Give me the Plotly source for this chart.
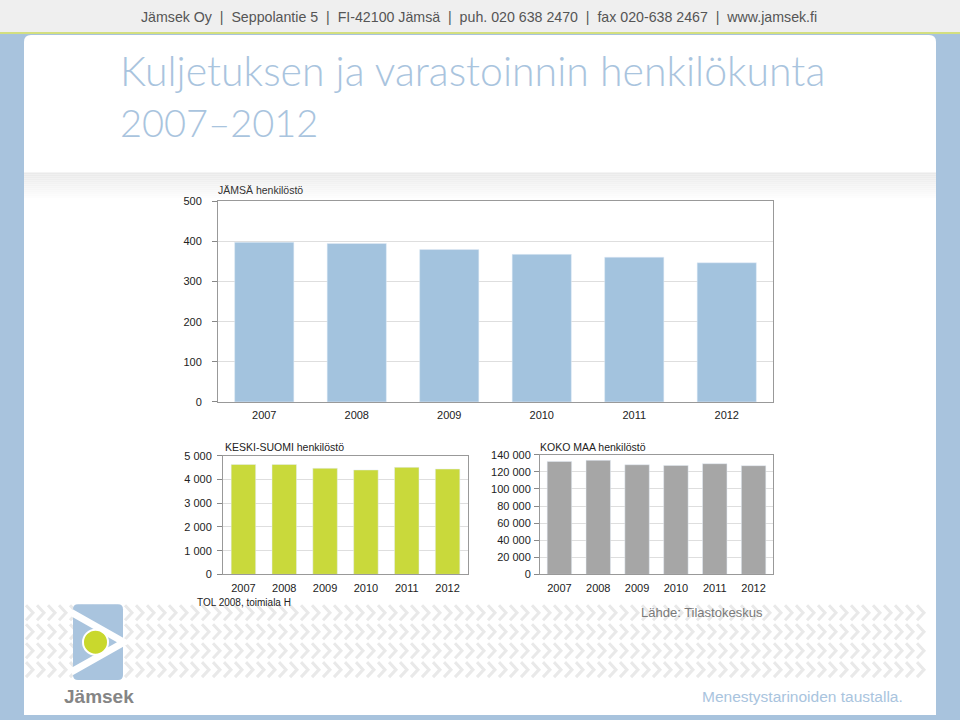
import plotly.graph_objects as go

# ---------------- data ----------------
years = ["2007", "2008", "2009", "2010", "2011", "2012"]
jamsa = [398, 395, 380, 368, 361, 347]
keski_suomi = [4630, 4630, 4470, 4400, 4510, 4440]
koko_maa = [132200, 133400, 128300, 127500, 129500, 127200]

jamsa_ticks = [0, 100, 200, 300, 400, 500]
jamsa_ticktext = ["0", "100", "200", "300", "400", "500"]
ks_ticks = [0, 1000, 2000, 3000, 4000, 5000]
ks_ticktext = ["0", "1 000", "2 000", "3 000", "4 000", "5 000"]
km_ticks = [0, 20000, 40000, 60000, 80000, 100000, 120000, 140000]
km_ticktext = ["0", "20 000", "40 000", "60 000", "80 000", "100 000", "120 000", "140 000"]

title_lines = ["Kuljetuksen ja varastoinnin henkilökunta", "2007\u20132012"]
header_text = ("Jämsek Oy  |  Seppolantie 5  |  FI-42100 Jämsä  |  puh. 020 638 2470  |  "
               "fax 020-638 2467  |  www.jamsek.fi")

W, H = 960, 720
# the plotting area is rendered 5 px inset at top and bottom; compensate
def X(px):
    return px / W
def Y(py):
    return 1 - (py - 5) / 710

FONT = "Liberation Sans, Arial, sans-serif"
BLUE_FRAME = "#a8c3dd"

fig = go.Figure()
fig.add_trace(go.Bar(x=years, y=jamsa, marker_color="#a3c3de", width=0.64,
                     xaxis="x", yaxis="y", hoverinfo="x+y"))
fig.add_trace(go.Bar(x=years, y=keski_suomi, marker_color="#c9d93b", width=0.6,
                     xaxis="x2", yaxis="y2", hoverinfo="x+y"))
fig.add_trace(go.Bar(x=years, y=koko_maa, marker_color="#a6a6a6", width=0.63,
                     xaxis="x3", yaxis="y3", hoverinfo="x+y"))

tickfont = dict(family=FONT, size=11, color="#222222")

def xax(domain, anchor):
    return dict(domain=domain, anchor=anchor, type="category", showline=True,
                linecolor="#999999", linewidth=1, mirror=True, ticks="",
                showgrid=False, tickfont=tickfont, fixedrange=True,
                ticklabelstandoff=3)

def yax(domain, anchor, rng, tv, tt, standoff):
    return dict(domain=domain, anchor=anchor, range=rng, tickvals=tv, ticktext=tt,
                showline=True, linecolor="#999999", linewidth=1, mirror=True,
                ticks="outside", ticklen=5, tickcolor="#888888",
                showgrid=True, gridcolor="#dedede", gridwidth=1, zeroline=False,
                tickfont=tickfont, fixedrange=True, ticklabelstandoff=standoff)

shapes = []
# header band (extends above the paper)
shapes.append(dict(type="rect", xref="paper", yref="paper", x0=-0.02, x1=1.02, y0=Y(31), y1=Y(-20),
                   fillcolor="#efefef", line_width=0, layer="below"))
shapes.append(dict(type="rect", xref="paper", yref="paper", x0=-0.02, x1=1.02, y0=Y(33), y1=Y(31),
                   fillcolor="#d3df80", line_width=0, layer="below"))
# white panel with rounded top corners
r = 7
x0, x1, y0, y1 = 24, 936, 34, 716
path = (f"M {X(x0)},{Y(y1)} L {X(x0)},{Y(y0 + r)} Q {X(x0)},{Y(y0)} {X(x0 + r)},{Y(y0)} "
        f"L {X(x1 - r)},{Y(y0)} Q {X(x1)},{Y(y0)} {X(x1)},{Y(y0 + r)} L {X(x1)},{Y(y1)} Z")
shapes.append(dict(type="path", xref="paper", yref="paper", path=path,
                   fillcolor="white", line_width=0, layer="below"))
# gray gradient band
nsteps = 14
for i in range(nsteps):
    t = i / (nsteps - 1)
    c = int(234 + (255 - 234) * t)
    shapes.append(dict(type="rect", xref="paper", yref="paper", x0=X(24), x1=X(936),
                       y0=Y(172 + 2 * (i + 1)), y1=Y(172 + 2 * i),
                       fillcolor=f"rgb({c},{c},{c})", line_width=0, layer="below"))
# chevron pattern
segs = []
for row in range(4):
    yt = 606 + row * 19
    ym = yt + 7.5
    yb = yt + 15
    xx = 26
    while xx + 7 <= 934:
        segs.append(f"M {X(xx)},{Y(yt)} L {X(xx + 7)},{Y(ym)} L {X(xx)},{Y(yb)}")
        xx += 11
shapes.append(dict(type="path", xref="paper", yref="paper", path=" ".join(segs),
                   line=dict(color="#e9e9e9", width=3), layer="below"))
# logo
lx0, lx1, ly0, ly1, lr = 73, 123, 605, 681, 5
lpath = (f"M {X(lx0 + lr)},{Y(ly0)} L {X(lx1 - lr)},{Y(ly0)} Q {X(lx1)},{Y(ly0)} {X(lx1)},{Y(ly0 + lr)} "
         f"L {X(lx1)},{Y(ly1 - lr)} Q {X(lx1)},{Y(ly1)} {X(lx1 - lr)},{Y(ly1)} "
         f"L {X(lx0 + lr)},{Y(ly1)} Q {X(lx0)},{Y(ly1)} {X(lx0)},{Y(ly1 - lr)} "
         f"L {X(lx0)},{Y(ly0 + lr)} Q {X(lx0)},{Y(ly0)} {X(lx0 + lr)},{Y(ly0)} Z")
shapes.append(dict(type="path", xref="paper", yref="paper", path=lpath,
                   fillcolor="#a9c4de", line_width=0, layer="above"))
shapes.append(dict(type="path", xref="paper", yref="paper",
                   path=f"M {X(71)},{Y(613)} L {X(124)},{Y(643)} L {X(71)},{Y(673)}",
                   line=dict(color="white", width=7), layer="above"))
shapes.append(dict(type="circle", xref="paper", yref="paper",
                   x0=X(83), x1=X(108), y0=Y(655.5), y1=Y(630.5),
                   fillcolor="#c9d82d", line=dict(color="white", width=2), layer="above"))

annotations = []
def ann(text, px, py, size, color, xanchor="left", yanchor="middle", family=FONT, weight=None):
    f = dict(family=family, size=size, color=color)
    if weight is not None:
        f["weight"] = weight
    annotations.append(dict(text=text, x=X(px), y=Y(py), xref="paper", yref="paper",
                            xanchor=xanchor, yanchor=yanchor, showarrow=False, font=f))

TITLE_FONT = "Lato, Liberation Sans, Arial, sans-serif"
ann(header_text, 479, 16, 14.2, "#555555", xanchor="center")
ann(title_lines[0], 118, 70, 41, "#a9c4de", family=TITLE_FONT, weight=300)
ann(title_lines[1], 118, 121, 38, "#a9c4de", family=TITLE_FONT, weight=300)
ann("JÄMSÄ henkilöstö", 216, 190, 10.5, "#333333")
ann("KESKI-SUOMI henkilöstö", 223, 447, 10.5, "#222222")
ann("KOKO MAA henkilöstö", 538, 447, 10.5, "#222222")
ann("TOL 2008, toimiala H", 195, 603, 10, "#222222")
ann("Lähde: Tilastokeskus", 639, 613, 13, "#7a7a7a")
ann("<b>Jämsek</b>", 99, 697, 19, "#858585", xanchor="center")
ann("Menestystarinoiden taustalla.", 905, 697, 15.5, "#a9c4de", xanchor="right")

fig.update_layout(
    width=W, height=H,
    margin=dict(l=0, r=0, t=0, b=0),
    paper_bgcolor=BLUE_FRAME,
    plot_bgcolor="white",
    showlegend=False,
    font=dict(family=FONT),
    xaxis=xax([X(218), X(773)], "y"),
    yaxis=yax([Y(402), Y(201)], "x", [0, 500], jamsa_ticks, jamsa_ticktext, 8),
    xaxis2=xax([X(223), X(468)], "y2"),
    yaxis2=yax([Y(575), Y(456)], "x2", [0, 5000], ks_ticks, ks_ticktext, 3),
    xaxis3=xax([X(540), X(773)], "y3"),
    yaxis3=yax([Y(575), Y(455)], "x3", [0, 140000], km_ticks, km_ticktext, 1),
    shapes=shapes,
    annotations=annotations,
)

post = ("document.documentElement.style.margin='0';document.body.style.margin='0';"
        "document.body.style.overflow='hidden';document.documentElement.style.overflow='hidden';"
        "var gd=document.getElementById('{plot_id}');"
        "gd.style.position='fixed';gd.style.top='0px';gd.style.left='0px';")

fig.write_html("out.html", config={"displayModeBar": False}, post_script=post)
